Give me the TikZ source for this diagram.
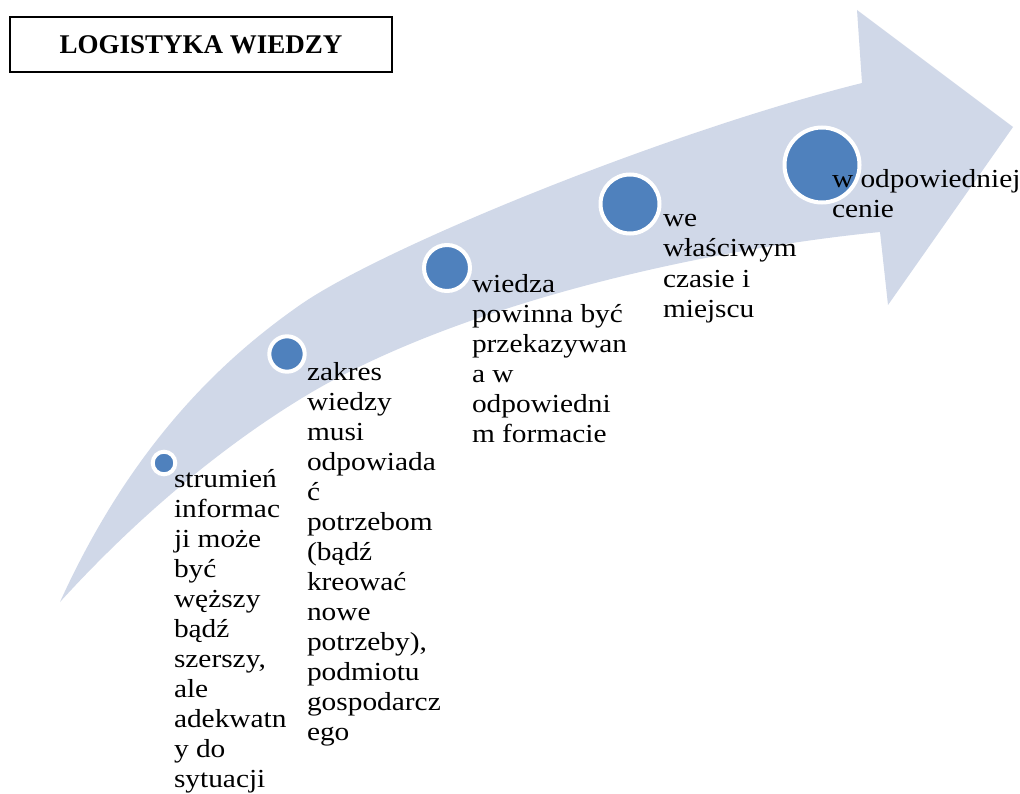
\documentclass[tikz,border=0pt]{standalone}
\usepackage{fontspec}
\setmainfont{Liberation Serif}
\newfontfamily\bodyfont[FakeStretch=1.13]{Liberation Serif}
\definecolor{bandcol}{HTML}{D0D8E8}
\definecolor{dotcol}{HTML}{4F81BD}
\begin{document}
\begin{tikzpicture}[x=1pt,y=-1pt,
  dot/.style={circle, draw=white, line width=4pt, fill=dotcol, inner sep=0pt, outer sep=0pt},
  lbl/.style={anchor=north west, inner sep=0pt, outer sep=0pt, align=left, font=\bodyfont\fontsize{26}{30}\selectfont},
  titlebox/.style={draw=black, line width=1.8pt, minimum width=382pt, minimum height=55pt, inner sep=0pt, font=\bfseries\fontsize{27}{30}\selectfont}]
\useasboundingbox (0,0) rectangle (1020,794);
\fill[white] (0,0) rectangle (1020,794);

% title
\node[titlebox] (title) at (201,44.5) {LOGISTYKA WIEDZY};

% curved arrow band
\fill[bandcol] (60,602) .. controls (135,437) and (230,354) .. (300,305)
  .. controls (380,249) and (662,133) .. (862,83)
  -- (857,10) -- (1013,127) -- (888,305) -- (880,232)
  .. controls (680,252) and (447,311) .. (307,395)
  .. controls (227,443) and (140,514) .. (60,602) -- cycle;

% dots
\node[dot, minimum size=22.6pt] (c1) at (164,463) {};
\node[dot, minimum size=35.4pt] (c2) at (287,354) {};
\node[dot, minimum size=46pt] (c3) at (447,268) {};
\node[dot, minimum size=59pt] (c4) at (630,204) {};
\node[dot, minimum size=75pt] (c5) at (822,165) {};

% labels
\node[lbl] (t1) at (174,466) {\strut strumień\\informac\\ji może\\być\\węższy\\bądź\\szerszy,\\ale\\adekwatn\\y do\\sytuacji};
\node[lbl] (t2) at (307,359) {\strut zakres\\wiedzy\\musi\\odpowiada\\ć\\potrzebom\\(bądź\\kreować\\nowe\\potrzeby),\\podmiotu\\gospodarcz\\ego};
\node[lbl] (t3) at (472,271) {\strut wiedza\\powinna być\\przekazywan\\a w\\odpowiedni\\m formacie};
\node[lbl] (t4) at (663,206) {\strut we\\właściwym\\czasie i\\miejscu};
\node[lbl] (t5) at (832,167) {\strut w odpowiedniej\\cenie};
\end{tikzpicture}
\end{document}
